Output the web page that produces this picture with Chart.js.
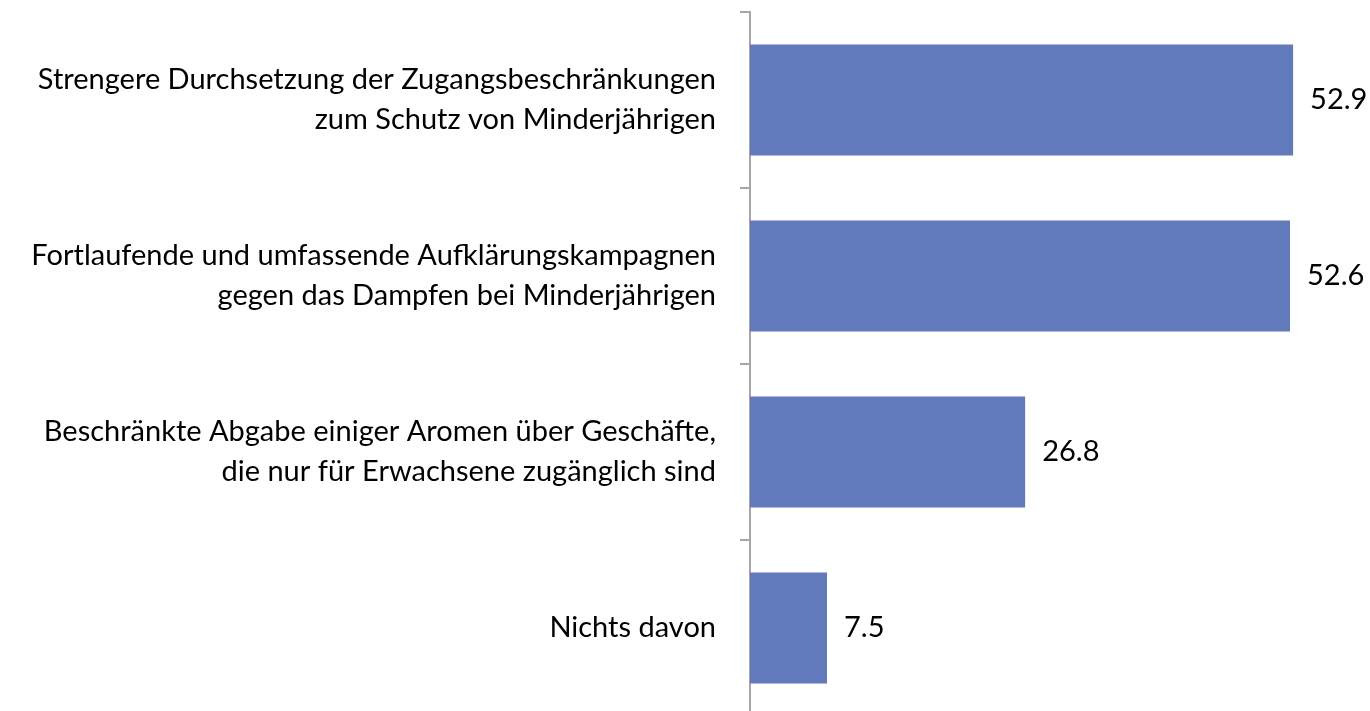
<!DOCTYPE html>
<html>
<head>
<meta charset="utf-8">
<script src="https://cdn.jsdelivr.net/npm/chart.js@4"></script>
<style>
    html, body { margin: 0; padding: 0; background: #fff; overflow: hidden; }
    #wrap { position: absolute; left: 0; top: 0; width: 1370px; height: 716px; }
</style>
</head>
<body>
<div id="wrap"><canvas id="massnahmenChart"></canvas></div>
<script>
const categories = [
    ['Strengere Durchsetzung der Zugangsbeschränkungen', 'zum Schutz von Minderjährigen'],
    ['Fortlaufende und umfassende Aufklärungskampagnen', 'gegen das Dampfen bei Minderjährigen'],
    ['Beschränkte Abgabe einiger Aromen über Geschäfte,', 'die nur für Erwachsene zugänglich sind'],
    'Nichts davon'
];
const values = [52.9, 52.6, 26.8, 7.5];

const valueLabels = {
    id: 'valueLabels',
    afterDatasetsDraw(chart) {
        const ctx = chart.ctx;
        const meta = chart.getDatasetMeta(0);
        ctx.save();
        ctx.font = '29px Lato, "Open Sans", sans-serif';
        ctx.fillStyle = '#000';
        ctx.textAlign = 'left';
        ctx.textBaseline = 'middle';
        meta.data.forEach((bar, i) => {
            ctx.fillText(values[i].toFixed(1), bar.x + 17, bar.y);
        });
        ctx.restore();
    }
};

const ctx = document.getElementById('massnahmenChart').getContext('2d');
new Chart(ctx, {
    type: 'bar',
    data: {
        labels: categories,
        datasets: [{
            data: values,
            backgroundColor: '#607abb',
            borderWidth: 0,
            categoryPercentage: 1,
            barPercentage: 0.63
        }]
    },
    options: {
        indexAxis: 'y',
        responsive: true,
        maintainAspectRatio: false,
        animation: false,
        layout: {
            padding: { top: 12, right: 4, bottom: 0, left: 0 }
        },
        scales: {
            x: {
                display: false,
                min: 0,
                max: 60
            },
            y: {
                afterFit(scale) {
                    scale.width = 750;
                    scale.paddingTop = 0;
                    scale.paddingBottom = 0;
                },
                border: { display: true, color: '#a6a6a6', width: 2 },
                grid: {
                    drawOnChartArea: false,
                    drawTicks: true,
                    tickLength: 10,
                    color: '#a6a6a6',
                    lineWidth: 2,
                    offset: true
                },
                ticks: {
                    color: '#000',
                    padding: 24,
                    font: {
                        family: 'Lato, "Open Sans", sans-serif',
                        size: 29,
                        lineHeight: 1.38
                    }
                }
            }
        },
        plugins: {
            legend: { display: false },
            tooltip: { enabled: false }
        }
    },
    plugins: [valueLabels]
});
</script>
</body>
</html>
